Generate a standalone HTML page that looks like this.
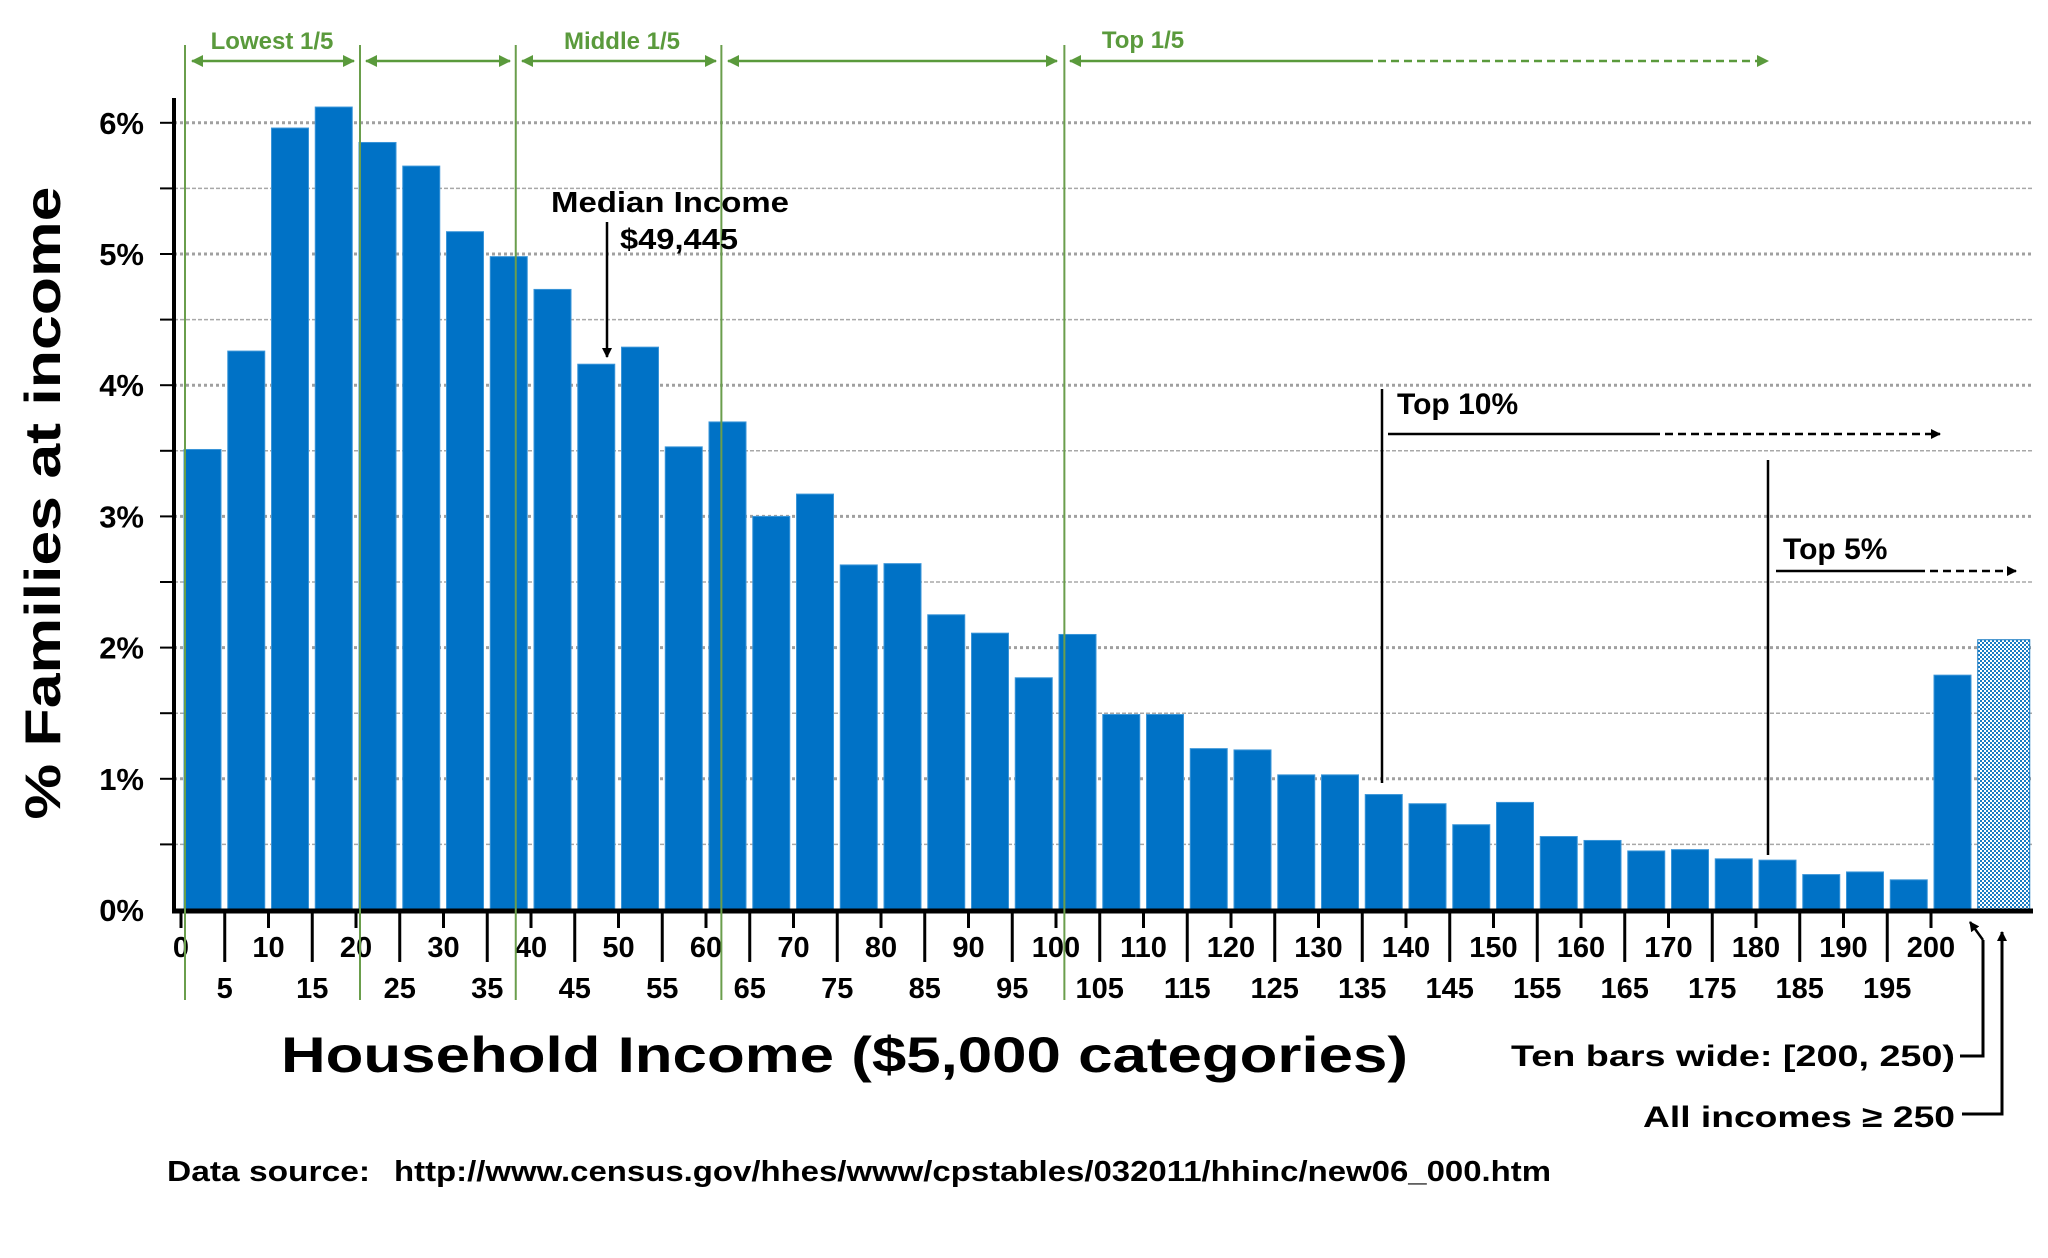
<!DOCTYPE html>
<html><head><meta charset="utf-8"><style>
html,body{margin:0;padding:0;background:#fff;}
svg{display:block;font-family:"Liberation Sans",sans-serif;font-weight:bold;}
</style></head><body>
<svg id="chart" width="2048" height="1258" viewBox="0 0 2048 1258" xmlns="http://www.w3.org/2000/svg">
<defs>
<pattern id="hatch" width="4" height="4" patternUnits="userSpaceOnUse">
<rect width="4" height="4" fill="#ffffff"/><rect width="2" height="2" fill="#1a7cc4"/><rect x="2" y="2" width="2" height="2" fill="#1a7cc4"/>
</pattern>
<marker id="ah" markerWidth="10" markerHeight="10" refX="9" refY="5" orient="auto" markerUnits="userSpaceOnUse"><path d="M0,0 L10,5 L0,10 z" fill="#000"/></marker>
<marker id="ahg" markerWidth="12" markerHeight="12" refX="11" refY="6" orient="auto-start-reverse" markerUnits="userSpaceOnUse"><path d="M0,0 L12,6 L0,12 z" fill="#5a9a3c"/></marker>
</defs>
<g id="grid"></g>
<g id="bars"></g>
<g id="axes"></g>
<g id="ann"></g>
</svg>
<script>
const categories = [0,5,10,15,20,25,30,35,40,45,50,55,60,65,70,75,80,85,90,95,100,105,110,115,120,125,130,135,140,145,150,155,160,165,170,175,180,185,190,195,200,250];
const values = [3.51,4.26,5.96,6.12,5.85,5.67,5.17,4.98,4.73,4.16,4.29,3.53,3.72,3.00,3.17,2.63,2.64,2.25,2.11,1.77,2.10,1.49,1.49,1.23,1.22,1.03,1.03,0.88,0.81,0.65,0.82,0.56,0.53,0.45,0.46,0.39,0.38,0.27,0.29,0.23,1.79,2.06];
const yTicks = [0,1,2,3,4,5,6];
const yTickLabels = ["0%","1%","2%","3%","4%","5%","6%"];
const xTopLabels = [0,10,20,30,40,50,60,70,80,90,100,110,120,130,140,150,160,170,180,190,200];
const xBottomLabels = [5,15,25,35,45,55,65,75,85,95,105,115,125,135,145,155,165,175,185,195];
const quintileEdges = [0,20,37.8,61.3,100.5];

const NS="http://www.w3.org/2000/svg";
const Y0=910, PER=131.2, AX=174, RIGHT=2033;
const y=v=>Y0-v*PER;
const x=v=>181+v*8.75;
function mk(parent,tag,attrs,text){const e=document.createElementNS(NS,tag);for(const k in attrs)e.setAttribute(k,attrs[k]);if(text!==undefined)e.textContent=text;document.getElementById(parent).appendChild(e);return e;}

for(let v=0.5;v<=6.2;v+=0.5){
  const major=Math.abs(v-Math.round(v))<1e-6;
  const g=mk('grid','line',{x1:AX,x2:RIGHT,y1:y(v),y2:y(v),stroke:major?'#a0a0a0':'#a8a8a8','stroke-width':major?3:1.5,'stroke-dasharray':major?'3,3':'4,2'});
  
  
  const t=mk('axes','line',{x1:AX-14,x2:AX,y1:y(v),y2:y(v),stroke:'#000','stroke-width':2});
  
  
}

values.forEach((val,i)=>{
  const last=i===values.length-1;
  const x0=x(categories[i]<200?categories[i]:(i===40?200:205))+3;
  const w=last?52:37;
  const r=mk('bars','rect',{x:x0,y:y(val),width:w,height:Y0-y(val),fill:last?'url(#hatch)':'#0072c6',stroke:last?'#1a7cc4':'#3a95d8','stroke-width':1});
  
  
});

yTicks.forEach((v,i)=>{
  const t=mk('axes','text',{x:144,y:y(v)+11,'text-anchor':'end','font-size':31},yTickLabels[i]);
  
  
});
const ya=mk('axes','line',{x1:AX,x2:AX,y1:98,y2:Y0+2,stroke:'#000','stroke-width':4});


const xa=mk('axes','line',{x1:AX-2,x2:RIGHT,y1:Y0+1,y2:Y0+1,stroke:'#000','stroke-width':5});


xTopLabels.forEach(v=>{
  const t=mk('axes','line',{x1:x(v),x2:x(v),y1:Y0,y2:Y0+18,stroke:'#000','stroke-width':3});
  
  
  const l=mk('axes','text',{x:x(v),y:957,'text-anchor':'middle','font-size':29},String(v));
  
  
});
xBottomLabels.forEach(v=>{
  const t=mk('axes','line',{x1:x(v),x2:x(v),y1:Y0,y2:Y0+52,stroke:'#000','stroke-width':3});
  
  
  const l=mk('axes','text',{x:x(v),y:998,'text-anchor':'middle','font-size':29},String(v));
  
  
});
quintileEdges.forEach(v=>{
  const l=mk('ann','line',{x1:x(v)+4,x2:x(v)+4,y1:45,y2:1000,stroke:'#6a9e4c','stroke-width':2});
  
  
});
</script>
<svg style="position:absolute;left:0;top:0" width="2048" height="1258" viewBox="0 0 2048 1258">
<defs>
<marker id="ah2" markerWidth="10" markerHeight="10" refX="9" refY="5" orient="auto" markerUnits="userSpaceOnUse"><path d="M0,0 L10,5 L0,10 z" fill="#000"/></marker>
<marker id="ahg2" markerWidth="12" markerHeight="12" refX="11" refY="6" orient="auto-start-reverse" markerUnits="userSpaceOnUse"><path d="M0,0 L12,6 L0,12 z" fill="#5a9a3c"/></marker>
</defs>
<g stroke="#5a9a3c" stroke-width="2.5" fill="none">
<line x1="192" y1="61" x2="354" y2="61" marker-end="url(#ahg2)" marker-start="url(#ahg2)"/>
<line x1="366" y1="61" x2="510" y2="61" marker-end="url(#ahg2)" marker-start="url(#ahg2)"/>
<line x1="522" y1="61" x2="716" y2="61" marker-end="url(#ahg2)" marker-start="url(#ahg2)"/>
<line x1="728" y1="61" x2="1057" y2="61" marker-end="url(#ahg2)" marker-start="url(#ahg2)"/>
<line x1="1070" y1="61" x2="1365" y2="61" marker-start="url(#ahg2)"/>
<line x1="1365" y1="61" x2="1768" y2="61" stroke-dasharray="8,5" marker-end="url(#ahg2)"/>
</g>
<g fill="#5a9a3c" font-size="24" font-family="Liberation Sans,sans-serif" font-weight="bold" text-anchor="middle">
<text x="272" y="49">Lowest 1/5</text>
<text x="622" y="49">Middle 1/5</text>
<text x="1143" y="48">Top 1/5</text>
</g>
<g font-family="Liberation Sans,sans-serif" font-weight="bold" fill="#000">
<text x="551" y="212" font-size="29" textLength="238" lengthAdjust="spacingAndGlyphs">Median Income</text>
<text x="620" y="249" font-size="29" textLength="118" lengthAdjust="spacingAndGlyphs">$49,445</text>
<line x1="607" y1="222" x2="607" y2="357" stroke="#000" stroke-width="2.5" marker-end="url(#ah2)"/>
<line x1="1382" y1="389" x2="1382" y2="783" stroke="#000" stroke-width="2.5"/>
<text x="1397" y="414" font-size="30">Top 10%</text>
<line x1="1388" y1="434" x2="1652" y2="434" stroke="#000" stroke-width="2.5"/>
<line x1="1652" y1="434" x2="1940" y2="434" stroke="#000" stroke-width="2.5" stroke-dasharray="8,5" marker-end="url(#ah2)"/>
<line x1="1768" y1="460" x2="1768" y2="855" stroke="#000" stroke-width="2.5"/>
<text x="1783" y="559" font-size="30">Top 5%</text>
<line x1="1776" y1="571" x2="1917" y2="571" stroke="#000" stroke-width="2.5"/>
<line x1="1917" y1="571" x2="2016" y2="571" stroke="#000" stroke-width="2.5" stroke-dasharray="8,5" marker-end="url(#ah2)"/>
<text transform="translate(60,503) rotate(-90)" text-anchor="middle" font-size="50" textLength="633" lengthAdjust="spacingAndGlyphs">% Families at income</text>
<text x="281" y="1072" font-size="50" textLength="1127" lengthAdjust="spacingAndGlyphs">Household Income ($5,000 categories)</text>
<text x="1511" y="1066" font-size="30" textLength="444" lengthAdjust="spacingAndGlyphs">Ten bars wide: [200, 250)</text>
<polyline points="1960,1056 1983,1056 1983,940" fill="none" stroke="#000" stroke-width="3"/>
<line x1="1983" y1="940" x2="1970" y2="922" stroke="#000" stroke-width="2.5" marker-end="url(#ah2)"/>
<text x="1643" y="1127" font-size="30" textLength="312" lengthAdjust="spacingAndGlyphs">All incomes ≥ 250</text>
<polyline points="1962,1114 2002,1114 2002,932" fill="none" stroke="#000" stroke-width="3" marker-end="url(#ah2)"/>
<text x="167" y="1181" font-size="29" textLength="203" lengthAdjust="spacingAndGlyphs">Data source:</text>
<text x="394" y="1181" font-size="29" textLength="1157" lengthAdjust="spacingAndGlyphs">http://www.census.gov/hhes/www/cpstables/032011/hhinc/new06_000.htm</text>
</g>
</svg>
</body></html>
